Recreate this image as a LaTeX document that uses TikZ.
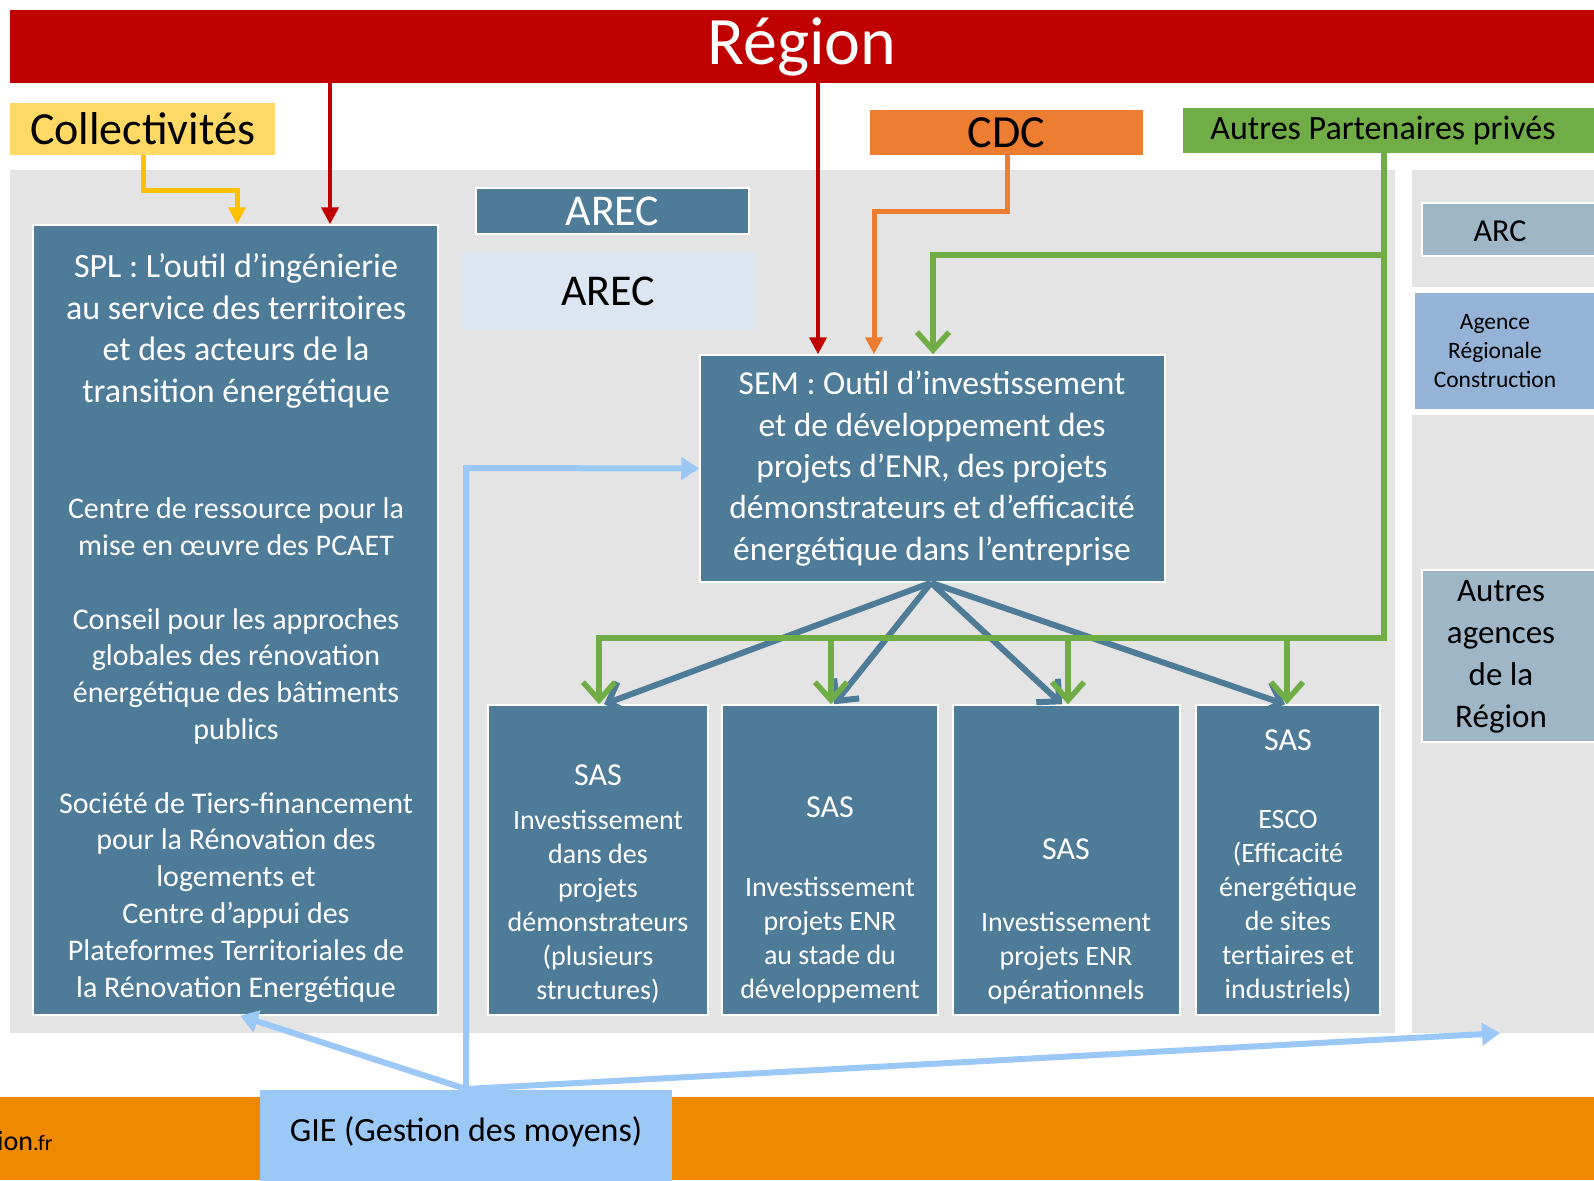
\documentclass[tikz,border=0pt]{standalone}
\usepackage{fontspec}
\setmainfont{Carlito}
\usetikzlibrary{arrows.meta}
\definecolor{regred}{HTML}{C00000}
\definecolor{steel}{HTML}{4E7B97}
\definecolor{panel}{HTML}{E4E4E4}
\definecolor{collyel}{HTML}{FFD966}
\definecolor{arryel}{HTML}{FFC000}
\definecolor{cdcor}{HTML}{ED7D31}
\definecolor{partgreen}{HTML}{70AD47}
\definecolor{arecl}{HTML}{DCE6F2}
\definecolor{agblue}{HTML}{95B3D7}
\definecolor{arcgray}{HTML}{9FB6C6}
\definecolor{gieblue}{HTML}{9CC8F8}
\definecolor{botor}{HTML}{EF8A00}
\newcommand\fsz[2]{\fontsize{#1}{#2}\selectfont}
\newcommand\sastitle{{\fontsize{32}{34}\selectfont SAS}}
\begin{document}
\begin{tikzpicture}[x=1pt,y=-1pt,
  steelbox/.style={draw=white,line width=1.5pt,fill=steel,inner sep=0pt},
  flatbox/.style={inner sep=0pt,draw=none},
  wtxt/.style={text=white,align=center,inner sep=0pt},
  btxt/.style={text=black,align=center,inner sep=0pt},
  redarr/.style={draw=regred,line width=4pt,-{Triangle[length=17pt,width=17pt]}},
  yelarr/.style={draw=arryel,line width=5pt,-{Triangle[length=17pt,width=17pt]}},
  orarr/.style={draw=cdcor,line width=5pt,-{Triangle[length=17pt,width=17pt]}},
  grline/.style={draw=partgreen,line width=5.5pt},
  grarr/.style={draw=partgreen,line width=5.5pt,-{Straight Barb[length=18pt,width=32pt]}},
  bluarr/.style={draw=steel,line width=6pt,-{Straight Barb[length=16pt,width=32pt]}},
  lbline/.style={draw=gieblue,line width=6pt},
  lbarr/.style={draw=gieblue,line width=6pt,-{Triangle[length=18pt,width=22pt]}}
]
\useasboundingbox (0,0) rectangle (1594,1180);
\clip (0,0) rectangle (1594,1180);
\fill[white] (0,0) rectangle (1594,1180);

% panels
\node[flatbox,fill=panel,minimum width=1385pt,minimum height=863pt] (mpanel) at (702.5,601.5) {};
\node[flatbox,fill=panel,minimum width=190pt,minimum height=863pt] (rpanel) at (1507,601.5) {};
\node[flatbox,fill=agblue,draw=white,line width=6pt,minimum width=200pt,minimum height=122pt] (agence) at (1512,350.5) {};
\node[btxt,font=\fsz{23.5}{29}] (agencetxt) at (1495,351) {Agence\\Régionale\\Construction};
\node[flatbox,fill=arcgray,draw=white,line width=2pt,minimum width=190pt,minimum height=53pt] (arc) at (1517,229.5) {};
\node[btxt,font=\fsz{32}{38}] (arctxt) at (1500,231) {ARC};
\node[flatbox,fill=arcgray,draw=white,line width=2pt,minimum width=190pt,minimum height=172pt] (agences) at (1517,656) {};
\node[btxt,font=\fsz{33}{42}] (agencestxt) at (1501,657) {Autres\\agences\\de la\\Région};

% bottom bar
\node[flatbox,fill=botor,minimum width=1600pt,minimum height=83pt] (botbar) at (797,1138.5) {};
\node[anchor=west,inner sep=0pt,font=\fsz{28}{30}] (url) at (-3,1141) {ion{\fsz{22}{24}.fr}};
\node[flatbox,fill=gieblue,minimum width=412pt,minimum height=92pt] (gie) at (466,1136) {};
\node[btxt,font=\fsz{34}{40}] (gietxt) at (466,1132) {GIE (Gestion des moyens)};

% top
\node[flatbox,fill=regred,minimum width=1584pt,minimum height=73pt,text=white,font=\fsz{68}{72}] (region) at (802,46.5) {Région};
\node[flatbox,fill=collyel,minimum width=265pt,minimum height=52pt,font=\fsz{46}{50}] (collect) at (142.5,129) {Collectivités};
\node[flatbox,fill=cdcor,minimum width=273pt,minimum height=45pt,font=\fsz{46}{50}] (cdc) at (1006.5,132.5) {CDC};
\node[flatbox,fill=partgreen,minimum width=420pt,minimum height=45pt] (partners) at (1393,130.5) {};
\node[btxt,font=\fsz{34}{40}] (partnerstxt) at (1383,131) {Autres Partenaires privés};

% AREC
\node[steelbox,minimum width=273pt,minimum height=46pt,text=white,font=\fsz{44}{48}] (arecd) at (612.5,211) {AREC};
\node[flatbox,fill=arecl,minimum width=294pt,minimum height=78pt,font=\fsz{44}{48}] (arecl) at (608,291) {AREC};

% SPL
\node[steelbox,minimum width=405pt,minimum height=790pt] (spl) at (235.5,620) {};
\node[wtxt,font=\fsz{34}{41.7}] (spltxta) at (236,331) {SPL : L’outil d’ingénierie\\au service des territoires\\et des acteurs de la\\transition énergétique};
\node[wtxt,font=\fsz{30}{36.8}] (spltxtb) at (236,750) {Centre de ressource pour la\\mise en œuvre des PCAET\\[36.8pt]Conseil pour les approches\\globales des rénovation\\énergétique des bâtiments\\publics\\[36.8pt]Société de Tiers-financement\\pour la Rénovation des\\logements et\\Centre d’appui des\\Plateformes Territoriales de\\la Rénovation Energétique};

% SEM
\node[steelbox,minimum width=465pt,minimum height=227pt] (sem) at (932.5,468.5) {};
\node[wtxt,font=\fsz{33.5}{41.3}] (semtxt) at (932,468.5) {SEM : Outil d’investissement\\et de développement des\\projets d’ENR, des projets\\démonstrateurs et d’efficacité\\énergétique dans l’entreprise};

% SAS
\node[steelbox,minimum width=220pt,minimum height=310pt] (sas1) at (598,860) {};
\node[steelbox,minimum width=216pt,minimum height=310pt] (sas2) at (830,860) {};
\node[steelbox,minimum width=227pt,minimum height=310pt] (sas3) at (1066.5,860) {};
\node[steelbox,minimum width=184pt,minimum height=310pt] (sas4) at (1288,860) {};
\node[wtxt,font=\fsz{28}{34}] (sas1txt) at (598,884) {\sastitle\\[10pt]Investissement\\dans des\\projets\\démonstrateurs\\(plusieurs\\structures)};
\node[wtxt,font=\fsz{28}{34}] (sas2txt) at (830,900) {\sastitle\\[45pt]Investissement\\projets ENR\\au stade du\\développement};
\node[wtxt,font=\fsz{28}{34}] (sas3txt) at (1066,921.5) {\sastitle\\[38pt]Investissement\\projets ENR\\opérationnels};
\node[wtxt,font=\fsz{28}{34}] (sas4txt) at (1288,866.5) {\sastitle\\[44pt]ESCO\\(Efficacité\\énergétique\\de sites\\tertiaires et\\industriels)};

% arrows from top
\draw[redarr] (region.south -| 330,0) -- (spl.north -| 330,0);
\draw[redarr] (region.south -| 818,0) -- (sem.north -| 818,0);
\draw[yelarr] (collect.south -| 143,0) |- (237,190) -- (spl.north -| 237,0);
\draw[orarr] (cdc.south -| 1007,0) |- (874,211) -- (sem.north -| 874,0);

% blue SEM -> SAS
\draw[bluarr] (sem.south -| 931,0) -- (sas1.north -| 604,0);
\draw[bluarr] (sem.south -| 931,0) -- (sas2.north -| 834,0);
\draw[bluarr] (sem.south -| 931,0) -- (sas3.north -| 1062,0);
\draw[bluarr] (sem.south -| 931,0) -- (sas4.north -| 1285,0);

% green partners
\coordinate (gtop) at (1384,255);
\coordinate (gbot) at (1384,638);
\draw[grline] (partners.south -| 1384,0) -- (gbot) -- (831,638);
\draw[grarr] (gtop) -| (sem.north -| 933,0);
\draw[grarr] (gbot) -| (sas1.north -| 599,0);
\draw[grarr] (831,638) -- (sas2.north -| 831,0);
\draw[grarr] (1068,638) -- (sas3.north -| 1068,0);
\draw[grarr] (1287,638) -- (sas4.north -| 1287,0);

% GIE light blue
\coordinate (gsrc) at (466,1089);
\draw[lbarr] (gsrc) -- (spl.south -| 240,0);
\draw[lbarr] (gsrc) -- (466,468) -- (sem.west);
\draw[lbarr] (gsrc) -- (rpanel.south -| 1500,0);
\end{tikzpicture}
\end{document}
